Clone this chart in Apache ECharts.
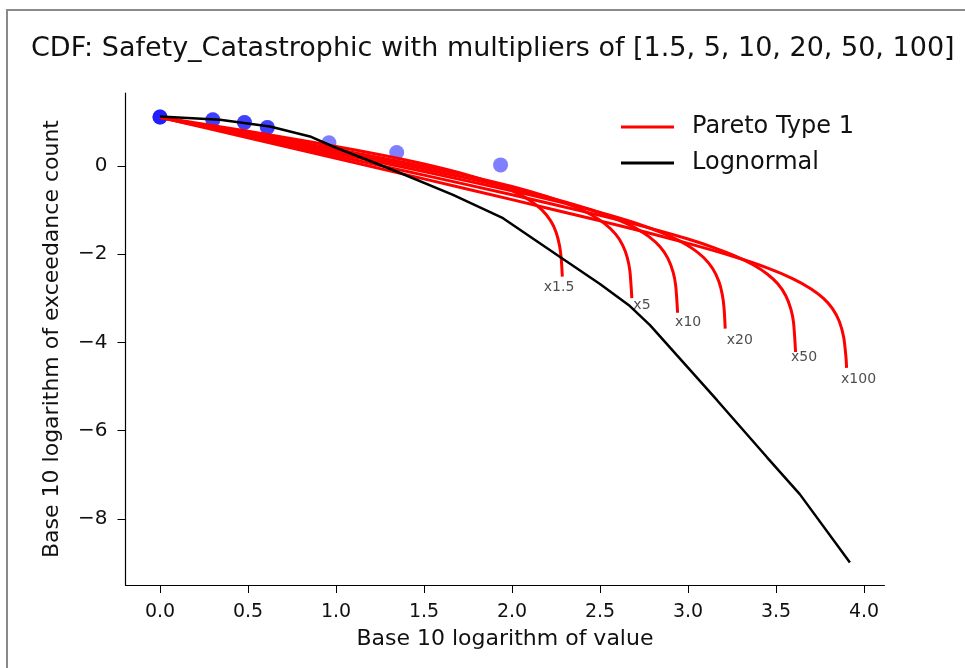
<!DOCTYPE html>
<html>
<head>
<meta charset="utf-8">
<script src="https://cdn.jsdelivr.net/npm/echarts@6/dist/echarts.min.js"></script>
<style>
html,body{margin:0;padding:0;background:#fff;}
#chart{width:965px;height:668px;}
</style>
</head>
<body>
<div id="chart"></div>
<script>
// ---- data ----
const titleText = 'CDF: Safety_Catastrophic with multipliers of [1.5, 5, 10, 20, 50, 100]';
const xTicks = [0, 0.5, 1, 1.5, 2, 2.5, 3, 3.5, 4];
const yTicks = [-8, -6, -4, -2, 0];

// observed points (log10 value, log10 exceedance count); ties repeated
const obsX = [0, 0, 0, 0.30, 0.30, 0.48, 0.48, 0.61, 0.61, 0.96, 1.345, 1.935];
const obsY = [1.105, 1.105, 1.105, 1.044, 1.044, 0.98, 0.98, 0.87, 0.87, 0.52, 0.30, 0.02];

const multLabels = ['x1.5', 'x5', 'x10', 'x20', 'x50', 'x100'];

const pareto15 = [[0,1.1],[0.25,0.942],[0.5,0.781],[0.75,0.614],[1.0,0.439],[1.25,0.251],[1.5,0.041],[1.75,-0.21],[1.9,-0.402],[2.0,-0.563],[2.1,-0.778],[2.17,-0.999],[2.22,-1.249],[2.25,-1.5],[2.27,-1.807],[2.28,-2.112],[2.286,-2.51]];
const pareto5 = [[0,1.1],[0.25,0.922],[0.5,0.743],[1.0,0.376],[1.5,-0.014],[1.75,-0.228],[2.0,-0.469],[2.2,-0.7],[2.35,-0.919],[2.45,-1.11],[2.53,-1.321],[2.59,-1.555],[2.63,-1.807],[2.655,-2.079],[2.67,-2.385],[2.681,-3.0]];
const pareto10 = [[0,1.1],[0.25,0.909],[0.5,0.716],[1.0,0.328],[1.5,-0.074],[1.75,-0.285],[2.0,-0.51],[2.25,-0.76],[2.45,-0.996],[2.6,-1.217],[2.7,-1.407],[2.78,-1.611],[2.84,-1.831],[2.885,-2.091],[2.915,-2.404],[2.93,-2.711],[2.941,-3.33]];
const pareto20 = [[0,1.1],[0.25,0.897],[0.5,0.693],[1.0,0.284],[1.5,-0.132],[2.0,-0.566],[2.25,-0.8],[2.5,-1.057],[2.7,-1.295],[2.85,-1.514],[2.95,-1.697],[3.03,-1.888],[3.09,-2.084],[3.14,-2.327],[3.175,-2.614],[3.195,-2.923],[3.205,-3.228],[3.2115,-3.69]];
const pareto50 = [[0,1.1],[0.25,0.882],[0.5,0.664],[1.0,0.228],[1.5,-0.211],[2.0,-0.657],[2.5,-1.124],[2.8,-1.43],[3.0,-1.66],[3.15,-1.858],[3.27,-2.046],[3.37,-2.243],[3.45,-2.452],[3.51,-2.675],[3.555,-2.939],[3.585,-3.253],[3.6,-3.56],[3.6113,-4.22]];
const pareto100 = [[0,1.1],[0.5,0.635],[1.0,0.17],[1.5,-0.297],[2.0,-0.767],[2.5,-1.247],[2.75,-1.496],[3.0,-1.758],[3.25,-2.045],[3.45,-2.314],[3.6,-2.567],[3.7,-2.791],[3.77,-3.006],[3.82,-3.231],[3.86,-3.527],[3.885,-3.891],[3.898,-4.352],[3.901,-4.58]];

const lognormal = [[0,1.12],[0.341,1.044],[0.625,0.892],[0.852,0.665],[0.983,0.438],[1.345,-0.129],[1.665,-0.658],[1.949,-1.187],[2.29,-2.111],[2.5,-2.679],[2.67,-3.178],[2.784,-3.609],[2.972,-4.449],[3.165,-5.312],[3.449,-6.606],[3.636,-7.446],[3.92,-8.99]];

// ---- chart ----
const FONT = 'DejaVu Sans';
const paretoCurves = [pareto15, pareto5, pareto10, pareto20, pareto50, pareto100];
const labelOffsets = [[-18, 11], [2, 8], [-2, 10], [2, 12], [-4, 6], [-5, 12]];

const series = [];
series.push({
  type: 'scatter',
  data: obsX.map((x, i) => [x, obsY[i]]),
  symbolSize: 15,
  itemStyle: { color: '#0000ff', opacity: 0.5 },
  z: 2,
  silent: true
});
paretoCurves.forEach((c) => {
  series.push({
    type: 'line',
    name: 'Pareto Type 1',
    data: c,
    showSymbol: false,
    smooth: 0.25,
    lineStyle: { color: '#ff0000', width: 3 },
    itemStyle: { color: '#ff0000' },
    z: 3,
    silent: true
  });
});
series.push({
  type: 'line',
  name: 'Lognormal',
  data: lognormal,
  showSymbol: false,
  lineStyle: { color: '#000000', width: 2.5 },
  itemStyle: { color: '#000000' },
  z: 4,
  silent: true
});
series.push({
  type: 'scatter',
  data: paretoCurves.map((c, i) => ({
    value: c[c.length - 1],
    label: {
      show: true,
      formatter: multLabels[i],
      position: labelOffsets[i],
      align: 'left',
      verticalAlign: 'middle',
      fontSize: 14,
      fontFamily: FONT,
      color: '#222'
    }
  })),
  symbolSize: 1,
  itemStyle: { color: 'rgba(0,0,0,0)' },
  z: 5,
  silent: true
});

const chart = echarts.init(document.getElementById('chart'), null, { renderer: 'canvas' });
chart.setOption({
  animation: false,
  backgroundColor: '#ffffff',
  title: {
    text: titleText,
    left: 26,
    top: 30,
    textStyle: { fontFamily: FONT, fontSize: 27, fontWeight: 'normal', color: '#111' }
  },
  legend: {
    data: ['Pareto Type 1', 'Lognormal'],
    orient: 'vertical',
    left: 616,
    top: 110,
    icon: 'rect',
    itemWidth: 53,
    itemHeight: 3,
    itemGap: 12,
    textStyle: { fontFamily: FONT, fontSize: 24, color: '#111', padding: [0, 0, 0, 13] }
  },
  grid: { left: 125.5, right: 80.6, top: 93, bottom: 83, containLabel: false },
  xAxis: {
    type: 'value',
    min: -0.196,
    max: 4.116,
    name: 'Base 10 logarithm of value',
    nameLocation: 'middle',
    nameGap: 43,
    nameTextStyle: { fontFamily: FONT, fontSize: 22, color: '#111' },
    axisLine: { show: true, onZero: false, lineStyle: { color: '#000', width: 1.2 } },
    axisTick: { show: true, inside: false, length: 8, customValues: xTicks, lineStyle: { color: '#000' } },
    axisLabel: { customValues: xTicks, formatter: (v) => v.toFixed(1), fontFamily: FONT, fontSize: 19, color: '#111', margin: 18 },
    splitLine: { show: false }
  },
  yAxis: {
    type: 'value',
    min: -9.5,
    max: 1.65,
    name: 'Base 10 logarithm of exceedance count',
    nameLocation: 'middle',
    nameGap: 62,
    nameTextStyle: { fontFamily: FONT, fontSize: 22, color: '#111' },
    axisLine: { show: true, onZero: false, lineStyle: { color: '#000', width: 1.2 } },
    axisTick: { show: true, inside: false, length: 8, customValues: yTicks, lineStyle: { color: '#000' } },
    axisLabel: { customValues: yTicks, formatter: (v) => (v < 0 ? '\u2212' + Math.abs(v) : String(v)), fontFamily: FONT, fontSize: 20, color: '#111', margin: 18 },
    splitLine: { show: false }
  },
  graphic: [
    { type: 'line', shape: { x1: 6, y1: 10, x2: 965, y2: 10 }, style: { stroke: '#8a8a8a', lineWidth: 2 } },
    { type: 'line', shape: { x1: 7, y1: 10, x2: 7, y2: 668 }, style: { stroke: '#8a8a8a', lineWidth: 2 } }
  ],
  series: series
});
</script>
</body>
</html>
